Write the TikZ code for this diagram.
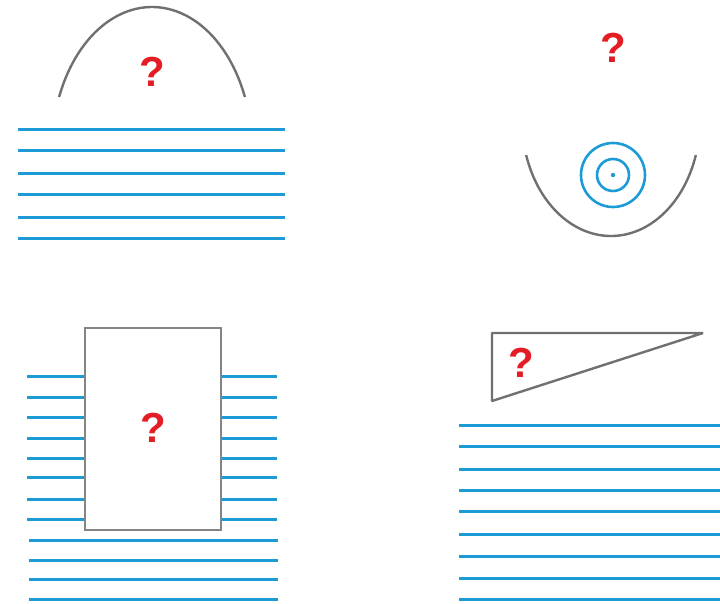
\documentclass[tikz,border=0pt]{standalone}
\usepackage{fontspec}
\setmainfont{Liberation Sans}
\definecolor{lineblue}{RGB}{28,155,215}
\definecolor{shapegray}{RGB}{112,112,112}
\definecolor{qred}{RGB}{228,28,36}
\begin{document}
\begin{tikzpicture}[x=1pt,y=-1pt,
  bluel/.style={draw=lineblue,line width=3pt},
  grayl/.style={draw=shapegray,line width=2.4pt},
  qmark/.style={text=qred,font=\fontsize{42}{42}\selectfont\bfseries,inner sep=0pt}]
\useasboundingbox (0,0) rectangle (720,603);
% panel 1
\draw[grayl] plot[domain=21.75:158.25,samples=80,smooth] ({152+100*cos(\x)},{150-143*sin(\x)});
\node[qmark] (q1) at (152,72) {?};
\foreach \yy in {129,150,173,194,217,238}{\draw[bluel] (18,\yy) -- (285,\yy);}
% panel 2
\node[qmark] (q2) at (613,48) {?};
\draw[grayl] plot[domain=17.6:162.4,samples=80,smooth] ({611+89*cos(\x)},{120+116*sin(\x)});
\draw[draw=lineblue,line width=2.6pt] (613,175) circle[radius=32];
\draw[draw=lineblue,line width=2.6pt] (613,175) circle[radius=16];
\fill[lineblue] (613,175) circle[radius=2.2];
% panel 3
\foreach \yy in {376,397,417,438,458,477,499,519}{
  \draw[bluel] (27,\yy) -- (84,\yy);
  \draw[bluel] (222,\yy) -- (277,\yy);}
\foreach \yy in {540,560,579,599}{\draw[bluel] (29,\yy) -- (278,\yy);}
\draw[draw=shapegray!85,line width=1.1pt,fill=white] (85,328) rectangle (221,530);
\node[qmark] (q3) at (153,428) {?};
% panel 4
\draw[grayl,line join=bevel] (492,333) -- (703,333) -- (492,401) -- cycle;
\node[qmark] (q4) at (521,363) {?};
\foreach \yy in {425,446,469,490,511,534,556,578,599}{\draw[bluel] (459,\yy) -- (720,\yy);}
\end{tikzpicture}
\end{document}
